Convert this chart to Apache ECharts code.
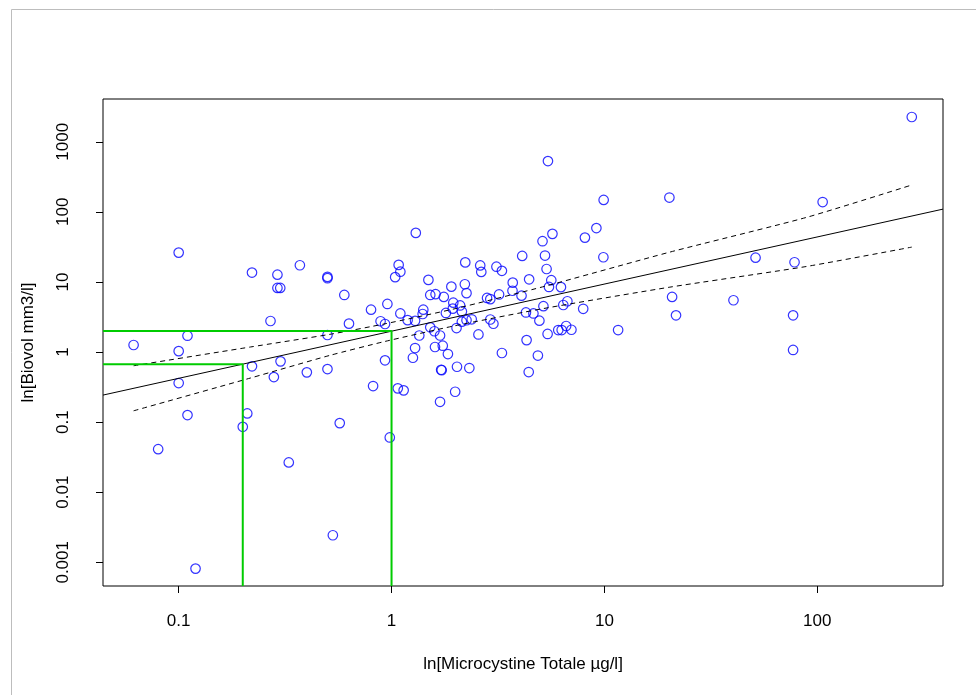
<!DOCTYPE html>
<html><head><meta charset="utf-8">
<script src="https://cdn.jsdelivr.net/npm/echarts@6/dist/echarts.min.js"></script>
<style>html,body{margin:0;padding:0;background:#fff}#c{width:976px;height:695px}</style>
</head><body><div id="c"></div>
<script>
// Data (raw, not log-transformed)
const microcystine = [0.100,0.221,0.291,0.371,0.291,0.300,0.500,0.500,0.600,0.270,0.631,0.801,0.956,0.888,0.932,0.500,0.110,0.0614,0.100,0.221,0.301,0.280,0.400,0.500,0.932,0.819,0.100,0.110,0.210,0.200,0.0801,0.571,0.329,0.530,0.120,0.981,
1.29,1.26,1.35,1.60,1.74,1.69,1.84,1.71,1.72,2.03,2.32,2.56,1.07,1.14,1.99,1.69,3.30,4.31,4.87,4.41,5.41,5.43,9.92,20.2,1.30,5.12,5.70,8.10,9.17,9.89,4.11,5.26,5.35,2.22,2.61,2.64,3.11,3.30,1.08,1.10,1.04,1.49,1.91,1.52,1.61,1.76,2.21,2.25,3.71,3.70,4.43,5.63,5.49,6.25,3.20,4.08,2.81,2.91,1.95,2.10,1.94,2.14,1.80,1.41,1.40,1.10,1.19,1.29,1.52,1.59,2.02,2.14,2.25,2.38,2.91,3.01,4.28,4.64,4.95,5.17,6.41,6.70,7.95,6.07,6.30,6.61,7.00,11.6,
278,106,51.3,78.2,20.8,40.4,21.7,77.0,77.0];
const biovol = [26.2,13.6,12.7,17.3,8.21,8.21,11.8,11.3,6.52,2.77,2.54,4.02,4.85,2.75,2.51,1.75,1.71,1.26,1.03,0.625,0.736,0.439,0.513,0.571,0.761,0.327,0.361,0.126,0.133,0.0857,0.0411,0.0968,0.0266,0.00243,0.000813,0.0604,
1.14,0.829,1.72,1.18,1.23,1.72,0.936,0.559,0.550,0.617,0.591,1.78,0.303,0.284,0.271,0.195,0.968,1.48,0.891,0.518,1.81,530,148,160,50.1,38.1,48.5,42.9,58.7,22.5,23.5,23.8,15.3,19.0,17.2,13.9,16.5,14.4,17.5,14.0,11.7,10.7,8.57,6.52,6.69,6.11,9.27,6.92,9.77,7.48,10.9,10.6,8.48,8.43,6.63,6.37,5.91,5.68,5.06,4.62,4.16,3.79,3.61,4.02,3.49,3.55,2.85,2.79,2.25,1.98,2.20,2.71,2.84,2.93,2.91,2.53,3.67,3.55,2.80,4.51,4.69,5.30,4.14,2.06,2.06,2.35,2.08,2.06,
2254,138,22.2,19.1,6.11,5.48,3.34,3.34,1.07];

const xTickLabels = ['0.1','1','10','100'];
const yTickLabels = ['0.001','0.01','0.1','1','10','100','1000'];
const xRange = [0.0441, 389.7];
const yRange = [0.000459, 4074];

// regression line (ends at plot edges)
const fitX = [0.0441, 389.7];
const fitY = [0.243, 109.4];
// confidence band (dashed)
const bandX = [0.0614, 0.217, 0.514, 0.932, 1.99, 5.26, 20.3, 88.8, 278];
const bandUpper = [0.637, 1.179, 1.790, 2.528, 4.155, 8.684, 26.65, 83.2, 241.5];
const bandLower = [0.145, 0.425, 0.897, 1.417, 2.375, 4.210, 8.427, 16.6, 31.4];
// green guides
const guideX = [0.2, 1];
const guideY = [0.667, 2.0];

const xTitle = 'ln[Microcystine Totale µg/l]';
const yTitle = 'ln[Biovol mm3/l]';

const L = Math.log10;
const FONT = 'Liberation Sans, Arial, sans-serif';
const xTicks = xTickLabels.map(s => L(parseFloat(s)));
const yTicks = yTickLabels.map(s => L(parseFloat(s)));
function fmt(ticks, labels) {
  return v => { for (let i = 0; i < ticks.length; i++) if (Math.abs(ticks[i] - v) < 1e-6) return labels[i]; return ''; };
}
const xMin = L(xRange[0]), xMax = L(xRange[1]), yMin = L(yRange[0]), yMax = L(yRange[1]);

const pts = microcystine.map((x, i) => [L(x), L(biovol[i])]);
const guideSeries = guideX.map((gx, i) => ({
  type: 'line', data: [[xMin, L(guideY[i])], [L(gx), L(guideY[i])], [L(gx), yMin]],
  symbol: 'none', lineStyle: { color: '#00cc00', width: 2 }, z: 4, animation: false
}));

const chart = echarts.init(document.getElementById('c'), null, { renderer: 'canvas' });
chart.setOption({
  animation: false,
  backgroundColor: '#fff',
  graphic: [{
    type: 'polyline', silent: true,
    shape: { points: [[11.5, 695], [11.5, 9.5], [976, 9.5]] },
    style: { stroke: '#bdbdbd', fill: null, lineWidth: 1 }
  }],
  grid: { left: 103, top: 99, width: 840, height: 487, show: true, borderColor: '#000', borderWidth: 1, backgroundColor: 'transparent' },
  xAxis: {
    type: 'value', min: xMin, max: xMax,
    axisLine: { show: false, onZero: false },
    axisTick: { show: true, customValues: xTicks, length: 7, lineStyle: { color: '#000', width: 1 } },
    axisLabel: { customValues: xTicks, formatter: fmt(xTicks, xTickLabels), margin: 27, fontSize: 17, color: '#000', fontFamily: FONT },
    splitLine: { show: false },
    name: xTitle, nameLocation: 'middle', nameGap: 70,
    nameTextStyle: { fontSize: 17, color: '#000', fontFamily: FONT }
  },
  yAxis: {
    type: 'value', min: yMin, max: yMax,
    axisLine: { show: false, onZero: false },
    axisTick: { show: true, customValues: yTicks, length: 7, lineStyle: { color: '#000', width: 1 } },
    axisLabel: { customValues: yTicks, formatter: fmt(yTicks, yTickLabels), rotate: 90, margin: 31, fontSize: 17, color: '#000', fontFamily: FONT },
    splitLine: { show: false },
    name: yTitle, nameLocation: 'middle', nameGap: 66,
    nameTextStyle: { fontSize: 17, color: '#000', fontFamily: FONT }
  },
  series: [
    { type: 'scatter', data: pts, symbol: 'circle', symbolSize: 9.5,
      itemStyle: { color: 'transparent', borderColor: '#0000ff', borderWidth: 1.2 }, z: 2 },
    { type: 'line', data: fitX.map((x, i) => [L(x), L(fitY[i])]), symbol: 'none',
      lineStyle: { color: '#000', width: 1 }, z: 3 },
    { type: 'line', data: bandX.map((x, i) => [L(x), L(bandUpper[i])]), symbol: 'none', smooth: 0.2,
      lineStyle: { color: '#000', width: 1, type: [5, 4] }, z: 3 },
    { type: 'line', data: bandX.map((x, i) => [L(x), L(bandLower[i])]), symbol: 'none', smooth: 0.2,
      lineStyle: { color: '#000', width: 1, type: [5, 4] }, z: 3 },
    ...guideSeries
  ]
});
</script></body></html>
